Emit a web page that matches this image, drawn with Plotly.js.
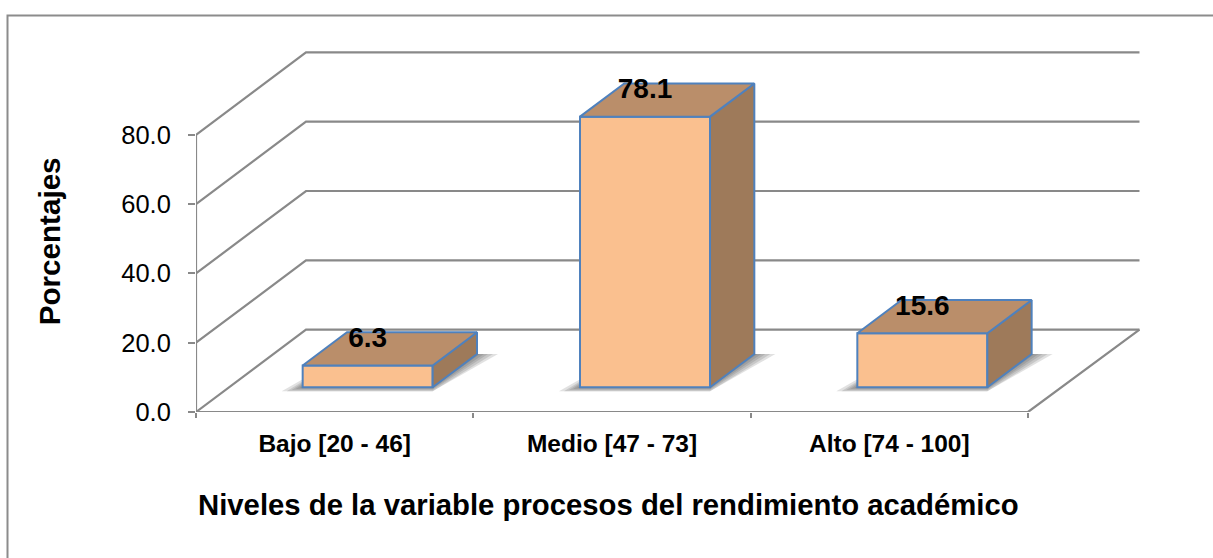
<!DOCTYPE html>
<html>
<head>
<meta charset="utf-8">
<script src="https://cdn.plot.ly/plotly-3.0.1.min.js"></script>
<style>html,body{margin:0;padding:0;background:#fff;overflow:hidden}</style>
</head>
<body>
<div id="chart" style="width:1213px;height:558px"></div>
<script>
// Survey results: share of respondents per performance level
const categories = ['Bajo [20 - 46]', 'Medio [47 - 73]', 'Alto [74 - 100]'];
const percentages = [6.3, 78.1, 15.6];
const valueLabels = ['6.3', '78.1', '15.6'];
const yTicks = [0, 20, 40, 60, 80];
const yTickLabels = ['0.0', '20.0', '40.0', '60.0', '80.0'];

// Page geometry of the plot area
const W = 1213, H = 558;
const L = 196, R = 1141, T = 50.5, B = 412;
const pxPerCat = 832 / 3, pxPerUnit = 3.47;
const xMax = (R - L) / pxPerCat, yMax = (B - T) / pxPerUnit;

// Oblique projection: full depth of the floor expressed in axis units
const DX = 110 / pxPerCat, DY = 82.5 / pxPerUnit;
const frontDepth = 0.30, backDepth = 0.703;
const barW = 130 / pxPerCat;
const floorEnd = 3.402;

const WALL = '#898989', FRONT = '#FAC08F', TOP = '#BA8E6A', SIDE = '#9E7A5A', EDGE = '#4F81BD';
const px = v => (v - L) / (R - L), py = v => (B - v) / (B - T);

const traces = [];
const line = (x, y) => traces.push({
  x, y, type: 'scatter', mode: 'lines', cliponaxis: false, hoverinfo: 'skip', showlegend: false,
  line: {color: WALL, width: 2.2}
});

// Walls and floor
yTicks.forEach(t => line([0, DX, floorEnd], [t, t + DY, t + DY]));
line([0, 0], [0, yTicks[yTicks.length - 1]]);
line([0, 3, floorEnd], [0, 0, DY]);

// Soft contact shadow beneath each column, built from nested translucent footprints
percentages.forEach((v, i) => {
  [21, 16, 11, 7, 3].forEach(e => {
    const ex = e / pxPerCat, ey = Math.min(e / 4, 4) / pxPerUnit;
    const x0 = i + 0.5 - barW / 2 + frontDepth * DX, x1 = x0 + barW;
    const b0 = frontDepth * DY, sx = (backDepth - frontDepth) * DX, sy = (backDepth - frontDepth) * DY;
    traces.push({
      x: [x0 - ex, x1, x1 + sx + ex, x0 + sx, x0 - ex],
      y: [b0 - ey, b0 - ey, b0 + sy, b0 + sy, b0 - ey],
      type: 'scatter', mode: 'lines', fill: 'toself', fillcolor: 'rgba(70,70,70,0.16)',
      line: {width: 0}, hoverinfo: 'skip', showlegend: false
    });
  });
});

// Column fronts
traces.push({
  type: 'bar', xaxis: 'x2', yaxis: 'y2', showlegend: false, hoverinfo: 'skip',
  x: percentages.map((_, i) => i + 0.5 + frontDepth * DX),
  y: percentages,
  base: percentages.map(() => frontDepth * DY),
  width: barW,
  marker: {color: FRONT, line: {color: EDGE, width: 2}}
});

// Column tops and right sides
const face = (x, y, color) => traces.push({
  x, y, xaxis: 'x2', yaxis: 'y2', type: 'scatter', mode: 'lines', fill: 'toself', fillcolor: color,
  line: {color: EDGE, width: 2}, cliponaxis: false, hoverinfo: 'skip', showlegend: false
});
percentages.forEach((v, i) => {
  const x0 = i + 0.5 - barW / 2 + frontDepth * DX, x1 = x0 + barW;
  const b = frontDepth * DY, t = b + v;
  const ox = (backDepth - frontDepth) * DX, oy = (backDepth - frontDepth) * DY;
  face([x1, x1 + ox, x1 + ox, x1, x1], [b, b + oy, t + oy, t, b], SIDE);
  face([x0, x1, x1 + ox, x0 + ox, x0], [t, t, t + oy, t + oy, t], TOP);
});

// Value labels floating above the front edge of each column
traces.push({
  x: percentages.map((_, i) => i + 0.5 + frontDepth * DX),
  y: percentages.map(v => v + frontDepth * DY + 7.4),
  text: valueLabels, xaxis: 'x2', yaxis: 'y2', type: 'scatter', mode: 'text',
  textposition: 'middle center', cliponaxis: false, hoverinfo: 'skip', showlegend: false,
  texttemplate: '<b>%{text}</b>',
  textfont: {family: 'Liberation Sans, Arial, sans-serif', size: 28, color: '#000'}
});

const layout = {
  width: W, height: H,
  margin: {l: L, r: W - R, t: T, b: H - B, pad: 0},
  paper_bgcolor: '#fff', plot_bgcolor: 'rgba(0,0,0,0)',
  showlegend: false, barmode: 'overlay',
  font: {family: 'Liberation Sans, Arial, sans-serif', color: '#000'},
  xaxis: {
    range: [0, xMax], showgrid: false, zeroline: false, showline: false, fixedrange: true,
    tickmode: 'array', tickvals: [0.5, 1.5, 2.5], ticktext: categories.map(c => '<b>' + c + '</b>'),
    ticks: '', ticklabelstandoff: 14, tickfont: {size: 24.5},
    minor: {tickmode: 'array', tickvals: [0, 1, 2, 3], ticks: 'outside', ticklen: 5, tickwidth: 2, tickcolor: WALL, showgrid: false}
  },
  yaxis: {
    range: [0, yMax], showgrid: false, zeroline: false, showline: false, fixedrange: true,
    tickmode: 'array', tickvals: yTicks, ticktext: yTickLabels,
    ticks: 'outside', ticklen: 7, tickwidth: 2, tickcolor: WALL, ticklabelstandoff: 12, tickfont: {size: 25.5}
  },
  xaxis2: {overlaying: 'x', range: [0, xMax], visible: false, fixedrange: true},
  yaxis2: {overlaying: 'y', range: [0, yMax], visible: false, fixedrange: true},
  // Chart frame runs off the right and bottom of the page
  shapes: [{
    type: 'path', xref: 'paper', yref: 'paper', layer: 'below',
    path: `M ${px(7.5)} ${py(H + 5)} L ${px(7.5)} ${py(15)} L ${px(W + 5)} ${py(15)}`,
    line: {color: '#8c8c8c', width: 2}
  }],
  annotations: [
    {text: '<b>Niveles de la variable procesos del rendimiento académico</b>', xref: 'paper', yref: 'paper',
     x: px(608), y: py(505), xanchor: 'center', yanchor: 'middle', showarrow: false, font: {size: 29.3}},
    {text: '<b>Porcentajes</b>', xref: 'paper', yref: 'paper', textangle: -90,
     x: px(49.5), y: py(241.5), xanchor: 'center', yanchor: 'middle', showarrow: false, font: {size: 29.6}}
  ]
};

Plotly.newPlot('chart', traces, layout, {displayModeBar: false, staticPlot: true});
</script>
</body>
</html>
